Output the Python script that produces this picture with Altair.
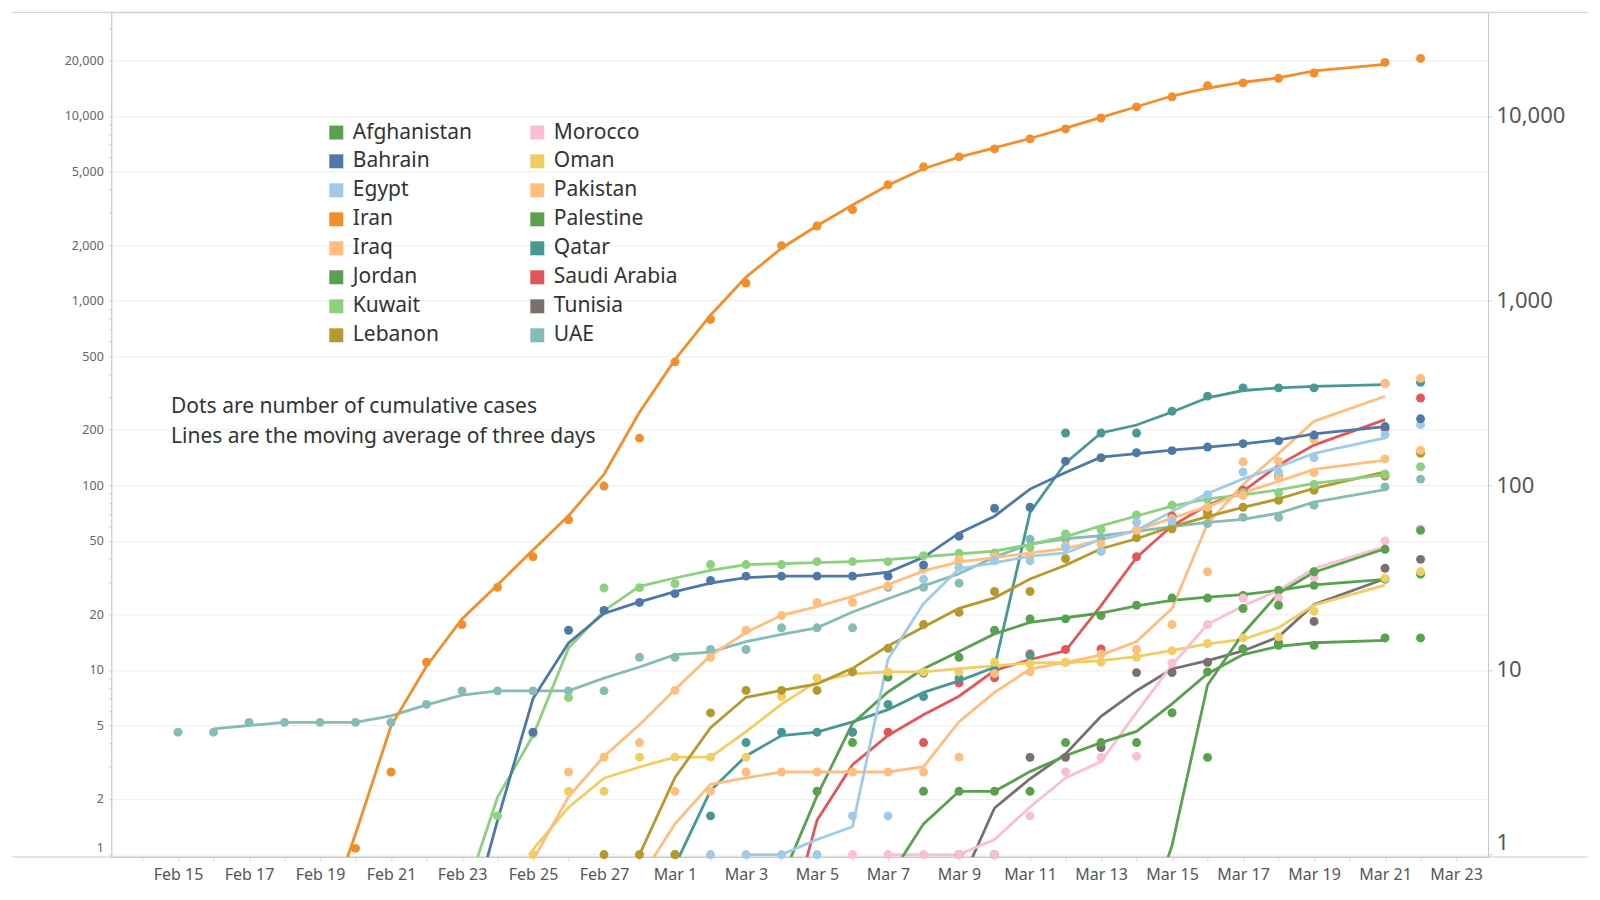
import altair as alt
import pandas as pd

# ---------------- data ----------------
day_labels = ["Feb 15", "Feb 16", "Feb 17", "Feb 18", "Feb 19", "Feb 20", "Feb 21", "Feb 22",
              "Feb 23", "Feb 24", "Feb 25", "Feb 26", "Feb 27", "Feb 28",
              "Mar 1", "Mar 2", "Mar 3", "Mar 4", "Mar 5", "Mar 6", "Mar 7", "Mar 8", "Mar 9",
              "Mar 10", "Mar 11", "Mar 12", "Mar 13", "Mar 14", "Mar 15", "Mar 16", "Mar 17",
              "Mar 18", "Mar 19", "Mar 20", "Mar 21", "Mar 22", "Mar 23"]
# days that have a reported value (Mar 20 is missing in the source)
obs_dates = day_labels[:33] + ["Mar 21", "Mar 22"]

afghanistan = [0] * 21 + [2.2, 2.2, 2.2, 2.2, 4.04, 4.04, 4.04, 5.86, 9.75, 13, 13.6, 13.6, 14.9, 14.9]
bahrain = [0] * 10 + [4.6, 16.4, 21, 23.2, 25.9, 30.5, 32.2, 32.2, 32.2, 32.2, 32.2, 37, 53, 75, 76,
                      135, 141, 150, 154, 161, 168, 174, 187, 208, 229]
egypt = [0] * 15 + [1, 1, 1, 1, 1.62, 1.62, 31, 36, 39, 39, 46, 44, 63, 64, 89, 118, 118, 141, 188, 213]
iran = [0] * 5 + [1.08, 2.8, 11, 17.6, 28, 41, 65, 99, 180, 466, 791, 1245, 1986, 2537, 3108, 4241,
                  5305, 6005, 6637, 7515, 8510, 9750, 11200, 12700, 14600, 15100, 16000, 17100,
                  19500, 20500]
iraq = [0] * 11 + [2.8, 3.37, 4.04, 7.74, 11.7, 16.4, 19.7, 23.2, 23.2, 28.6, 35, 39.5, 41, 41, 47,
                   48, 57, 66, 76, 88, 110, 117, 139, 155]
jordan = [0] * 29 + [3.36, 21.5, 22.4, 34, 45, 57]
kuwait = [0] * 9 + [1.62, 4.5, 7.08, 27.8, 27.9, 29.3, 37.2, 37.2, 37.2, 38.6, 38.6, 38.6, 41.6, 42.8,
                    43, 46, 54.5, 57.5, 69, 78, 84, 91, 91, 101, 115, 126]
lebanon = [0] * 12 + [1, 1, 1, 5.85, 7.74, 7.74, 7.74, 9.75, 13.1, 17.6, 20.5, 26.6, 26.6, 40, 44, 52,
                      58, 69, 76, 83, 94, 112, 149]
morocco = [0] * 19 + [1, 1, 1, 1, 1, 1.62, 2.81, 3.36, 3.4, 10.9, 17.6, 24.5, 24.5, 31.8, 50, 58]
oman = [0] * 10 + [1, 2.2, 2.2, 3.37, 3.37, 3.37, 3.37, 7.17, 9.05, 9.75, 9.75, 9.75, 9.75, 11, 10.8,
                   11, 11, 11.7, 12.7, 13.9, 14.9, 15.1, 20.8, 31.4, 34.1]
pakistan = [0] * 14 + [2.2, 2.2, 2.8, 2.8, 2.8, 2.8, 2.8, 2.8, 3.37, 9.55, 9.76, 11, 12.2, 12.9,
                       17.6, 34, 134, 135, 177, 354, 380]
palestine = [0] * 18 + [2.2, 4.04, 9.15, 9.6, 11.7, 16.4, 18.9, 18.9, 19.7, 22.4, 24.5, 24.5, 25.3, 27,
                        28.7, 31, 33]
qatar = [0] * 14 + [1, 1.62, 4.04, 4.6, 4.6, 4.6, 6.5, 7.17, 9, 10, 12, 192, 192, 192, 252, 304, 337,
                    337, 337, 355, 361]
saudi_arabia = [0] * 19 + [4.6, 4.6, 4.04, 8.5, 9.07, 12.2, 12.9, 13, 41, 68, 72, 94, 112, 180, 203, 297]
tunisia = [0] * 22 + [1, 1, 3.36, 3.36, 3.8, 9.67, 9.67, 11, 13, 14, 18.3, 35.5, 39.7]
uae = [4.6, 4.6, 5.2, 5.2, 5.2, 5.2, 5.2, 6.5, 7.7, 7.7, 7.7, 7.7, 7.7, 11.7, 11.7, 12.9, 12.9, 16.9,
       16.9, 16.9, 28, 28, 29.5, 42, 51, 51, 52, 57, 60, 62, 67, 67, 78, 98, 108]

series = {
    "Afghanistan": afghanistan, "Bahrain": bahrain, "Egypt": egypt, "Iran": iran, "Iraq": iraq,
    "Jordan": jordan, "Kuwait": kuwait, "Lebanon": lebanon, "Morocco": morocco, "Oman": oman,
    "Pakistan": pakistan, "Palestine": palestine, "Qatar": qatar, "Saudi Arabia": saudi_arabia,
    "Tunisia": tunisia, "UAE": uae,
}
colors = {
    "Afghanistan": "#59a14f", "Bahrain": "#4e79a7", "Egypt": "#a0cbe8", "Iran": "#f28e2b",
    "Iraq": "#ffbe7d", "Jordan": "#59a14f", "Kuwait": "#8cd17d", "Lebanon": "#b6992d",
    "Morocco": "#fabfd2", "Oman": "#f1ce63", "Pakistan": "#ffbe7d", "Palestine": "#59a14f",
    "Qatar": "#499894", "Saudi Arabia": "#e15759", "Tunisia": "#79706e", "UAE": "#86bcb6",
}
legend_col1 = ["Afghanistan", "Bahrain", "Egypt", "Iran", "Iraq", "Jordan", "Kuwait", "Lebanon"]
legend_col2 = ["Morocco", "Oman", "Pakistan", "Palestine", "Qatar", "Saudi Arabia", "Tunisia", "UAE"]
note_lines = ["Dots are number of cumulative cases", "Lines are the moving average of three days"]

major_ticks = [1, 2, 5, 10, 20, 50, 100, 200, 500, 1000, 2000, 5000, 10000, 20000]
right_ticks = [1, 10, 100, 1000, 10000]

# ---------------- build table ----------------
rows = []
for c in sorted(series, reverse=True):          # A drawn last (on top), as in the reference
    for date, v in zip(obs_dates, series[c]):
        rows.append({"country": c, "date": date, "x": day_labels.index(date), "value": v})
df = pd.DataFrame(rows)

legend_order = legend_col1 + legend_col2          # legend fills column by column
color_scale = alt.Scale(domain=legend_order, range=[colors[n] for n in legend_order])

minor_ticks = [m * 10 ** k for k in range(5) for m in (3, 4, 6, 7, 8, 9) if m * 10 ** k <= 36000]
left_values = sorted(major_ticks + minor_ticks)
is_major = "indexof(" + str(major_ticks) + ", datum.value) >= 0"

x_scale = alt.Scale(domain=[-1.879, 36.9], nice=False, zero=False)
y_scale = alt.Scale(type="log", domain=[0.97, 36440], nice=False)

label_arr = "[" + ",".join("'" + d + "'" for d in day_labels) + "]"
x_axis = alt.Axis(
    values=list(range(-1, 37)),
    labelExpr="(datum.value >= 0 && datum.value % 2 == 0) ? " + label_arr + "[datum.value] : ''",
    tickSize=4, tickColor="#d6d6d6", domainColor="#c8c8c8", grid=False, title=None,
    labelFontSize=16, labelColor="#555555", labelFont="Noto Sans", labelPadding=5,
    labelOverlap=False, labelFlush=False,
)
left_axis = alt.Axis(
    values=left_values,
    labelExpr=is_major + " ? format(datum.value, ',') : ''",
    tickSize=3, tickColor="#cfcfcf", domainColor="#c8c8c8", title=None,
    grid=True, gridColor="#ededed",
    gridOpacity={"condition": {"test": is_major, "value": 1}, "value": 0},
    labelFontSize=12.5, labelColor="#666666", labelFont="Noto Sans", labelPadding=5,
    labelFlush=5, labelOverlap=False,
)
right_axis = alt.Axis(
    orient="right", values=right_ticks, format=",", tickSize=4, tickColor="#cfcfcf",
    domainColor="#c8c8c8", grid=False, title=None, labelFontSize=22, labelColor="#555555",
    labelFont="Noto Sans", labelPadding=4, labelFlush=5,
)
legend = alt.Legend(
    title=None, orient="none", legendX=214.5, legendY=109.5, columns=2,
    symbolType="square", symbolSize=196, symbolStrokeWidth=0, symbolOpacity=1,
    labelFontSize=21, labelFont="Noto Sans", labelColor="#333333", labelOffset=6,
    rowPadding=7, columnPadding=54, padding=0, labelLimit=300,
)

points = alt.Chart(df).transform_filter("datum.value > 0").mark_circle(size=80, opacity=1).encode(
    x=alt.X("x:Q", scale=x_scale, axis=x_axis),
    y=alt.Y("value:Q", scale=y_scale, axis=left_axis),
    color=alt.Color("country:N", scale=color_scale, legend=legend),
)

lines = alt.Chart(df).transform_window(
    avg="mean(value)", n="count()", frame=[-1, 1], groupby=["country"], sort=[alt.SortField("x")]
).transform_filter("datum.n == 3").transform_calculate(
    mv="max(datum.avg, 0.3)"
).mark_line(strokeWidth=2.8, clip=True).encode(
    x=alt.X("x:Q", scale=x_scale, axis=x_axis),
    y=alt.Y("mv:Q", scale=y_scale, axis=right_axis),
    color=alt.Color("country:N", scale=color_scale, legend=None),
    detail="country:N",
)

frame_df = pd.DataFrame({"k": [0]})
top_rule = alt.Chart(frame_df).mark_rule(color="#c8c8c8", strokeWidth=1).encode(
    x=alt.value(-99), x2=alt.value(1476), y=alt.value(0))
bottom_rule = alt.Chart(frame_df).mark_rule(color="#c8c8c8", strokeWidth=1).encode(
    x=alt.value(-99), x2=alt.value(1476), y=alt.value(844.7))

notes = alt.Chart(pd.DataFrame({"t": ["\n".join(note_lines)]})).mark_text(
    align="left", baseline="top", fontSize=21, font="Noto Sans", color="#333333",
    lineBreak="\n", lineHeight=30,
).encode(text="t:N", x=alt.value(59.7), y=alt.value(384))

chart = alt.layer(top_rule, bottom_rule, notes, lines, points).resolve_scale(
    y="independent"
).resolve_legend(color="independent").properties(
    width=1376.7, height=844.7,
    padding={"left": 103.3, "top": 4.3, "right": 104, "bottom": 35},
    autosize=alt.AutoSizeParams(type="none"),
).configure_view(stroke=None).configure(font="Noto Sans")

chart.save("out.html", embed_options={"renderer": "svg", "actions": False})
